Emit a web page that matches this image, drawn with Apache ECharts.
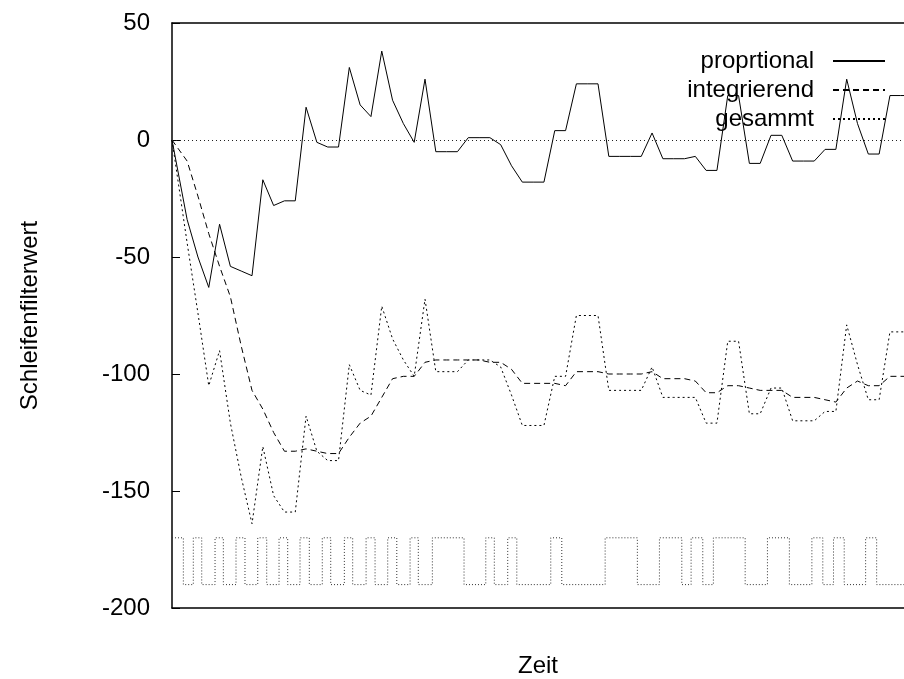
<!DOCTYPE html>
<html><head><meta charset="utf-8">
<script src="https://cdn.jsdelivr.net/npm/echarts@6/dist/echarts.min.js"></script>
<style>html,body{margin:0;padding:0;background:#fff}#c{width:904px;height:679px}</style>
</head><body><div id="c"></div>
<script>
// Zeit (sample times, axis units)
const zeit = [0, 1.4, 2.4, 3.4, 4.4, 5.4, 6.4, 7.4, 8.4, 9.4, 10.4, 11.4, 12.4, 13.4, 14.4, 15.4, 16.4, 17.4, 18.4, 19.4,
  20.4, 21.4, 22.4, 23.4, 24.4, 25.4, 26.4, 27.4, 28.4, 29.4, 30.4, 31.4, 32.4, 33.4, 34.4, 35.4, 36.4, 37.4, 38.4, 39.4,
  40.4, 41.4, 42.4, 43.4, 44.4, 45.4, 46.4, 47.4, 48.4, 49.4, 50.4, 51.4, 52.4, 53.4, 54.4, 55.4, 56.4, 57.4, 58.4, 59.4,
  60.4, 61.4, 62.4, 63.4, 64.4, 65.4, 66.4, 67.4, 68.4];
const proportional = [0, -34, -50, -63, -36, -54, -56, -58, -17, -28, -26, -26, 14, -1, -3, -3, 31, 15, 10, 38,
  17, 7, -1, 26, -5, -5, -5, 1, 1, 1, -2, -11, -18, -18, -18, 4, 4, 24, 24, 24,
  -7, -7, -7, -7, 3, -8, -8, -8, -7, -13, -13, 19, 19, -10, -10, 2, 2, -9, -9, -9,
  -4, -4, 26, 7, -6, -6, 19, 19, 19];
const integrierend = [0, -9, -24, -40, -54, -67, -88, -107, -115, -125, -133, -133, -132, -133, -134, -134, -127, -121, -118, -110,
  -102, -101, -101, -95, -94, -94, -94, -94, -94, -95, -95, -98, -104, -104, -104, -104, -105, -99, -99, -99,
  -100, -100, -100, -100, -99, -102, -102, -102, -103, -108, -108, -105, -105, -106, -107, -107, -107, -110, -110, -110,
  -111, -112, -106, -103, -105, -105, -101, -101, -101];
const gesamt = [0, -44, -74, -105, -90, -121, -144, -164, -131, -152, -159, -159, -118, -133, -137, -137, -96, -107, -109, -71,
  -85, -94, -101, -68, -99, -99, -99, -94, -94, -94, -97, -109, -122, -122, -122, -101, -101, -75, -75, -75,
  -107, -107, -107, -107, -97, -110, -110, -110, -110, -121, -121, -86, -86, -117, -117, -106, -106, -120, -120, -120,
  -116, -116, -79, -96, -111, -111, -82, -82, -82];
// Bit signal: transition times and the level held after each transition
const bitZeit = [0, 1.05, 1.97, 2.75, 3.98, 4.75, 5.92, 6.75, 7.93, 8.76, 9.9, 10.7, 11.84, 12.7, 13.9, 14.68,
  15.94, 16.71, 17.95, 18.78, 19.95, 20.79, 22.02, 22.78, 24.08, 27.01, 29.02, 29.81, 31.05, 31.89, 35.03, 36.05,
  40.06, 43.04, 45.08, 47.15, 48.01, 49.09, 50.07, 53.01, 55.07, 57.1, 59.18, 60.19, 61.18, 62.17, 64.15, 65.17, 68.4];
const bitWert = [-170, -190, -170, -190, -170, -190, -170, -190, -170, -190, -170, -190, -170, -190, -170, -190,
  -170, -190, -170, -190, -170, -190, -170, -190, -170, -190, -170, -190, -170, -190, -170, -190,
  -170, -190, -170, -190, -170, -190, -170, -190, -170, -190, -170, -190, -170, -190, -170, -190, -190];
const seriesNames = ['proprtional', 'integrierend', 'gesammt'];
const yMin = -200, yMax = 50, yStep = 50;
const xMin = 0, xMax = 67.7;

const pairs = (xs, ys) => xs.map((x, i) => [x, ys[i]]);
const FONT = "'Liberation Sans', Arial, sans-serif";
const FS = 24;
const chart = echarts.init(document.getElementById('c'), null, { renderer: 'canvas' });
const axisBase = {
  type: 'value', min: xMin, max: xMax,
  axisTick: { show: false }, axisLabel: { show: false }, splitLine: { show: false },
  axisLine: { show: true, onZero: false, lineStyle: { color: '#000', width: 1.5 } }
};
chart.setOption({
  animation: false,
  backgroundColor: '#fff',
  textStyle: { fontFamily: FONT },
  grid: { left: 172, right: 0, top: 23, bottom: 71, containLabel: false, outerBoundsMode: 'none' },
  xAxis: [
    Object.assign({}, axisBase, { position: 'bottom', name: 'Zeit', nameLocation: 'middle', nameGap: 46,
      nameTextStyle: { fontFamily: FONT, fontSize: FS, color: '#000' } }),
    Object.assign({}, axisBase, { position: 'top' })
  ],
  yAxis: {
    type: 'value', min: yMin, max: yMax, interval: yStep,
    name: 'Schleifenfilterwert', nameLocation: 'middle', nameRotate: 90, nameGap: 130,
    nameTextStyle: { fontFamily: FONT, fontSize: FS, color: '#000' },
    axisLine: { show: true, onZero: false, lineStyle: { color: '#000', width: 1.5 } },
    axisTick: { show: true, inside: true, length: 8, lineStyle: { color: '#000', width: 1 } },
    axisLabel: { fontFamily: FONT, fontSize: FS, color: '#000', margin: 22 },
    splitLine: { show: false }
  },
  legend: {
    orient: 'vertical', right: 18, top: 49, align: 'right', padding: 0,
    itemWidth: 52, itemHeight: 14, itemGap: 5,
    data: seriesNames,
    itemStyle: { opacity: 0 },
    textStyle: { fontFamily: FONT, fontSize: FS, color: '#000', width: 260, align: 'right', padding: [0, 14, 0, 0] }
  },
  series: [
    { name: seriesNames[0], type: 'line', data: pairs(zeit, proportional), symbol: 'none', xAxisIndex: 0,
      lineStyle: { color: '#000', width: 1, type: 'solid' }, itemStyle: { color: '#000' },
      markLine: { silent: true, symbol: 'none', label: { show: false },
        lineStyle: { color: '#222', width: 1, type: [1, 3] }, data: [{ yAxis: 0 }] } },
    { name: seriesNames[1], type: 'line', data: pairs(zeit, integrierend), symbol: 'none',
      lineStyle: { color: '#000', width: 1, type: [6, 4] }, itemStyle: { color: '#000' } },
    { name: seriesNames[2], type: 'line', data: pairs(zeit, gesamt), symbol: 'none',
      lineStyle: { color: '#000', width: 1, type: [2, 3] }, itemStyle: { color: '#000' } },
    { name: 'bit', type: 'line', step: 'end', data: pairs(bitZeit, bitWert), symbol: 'none',
      lineStyle: { color: '#333', width: 1, type: [1, 2] }, itemStyle: { color: '#333' } }
  ]
});
</script></body></html>
